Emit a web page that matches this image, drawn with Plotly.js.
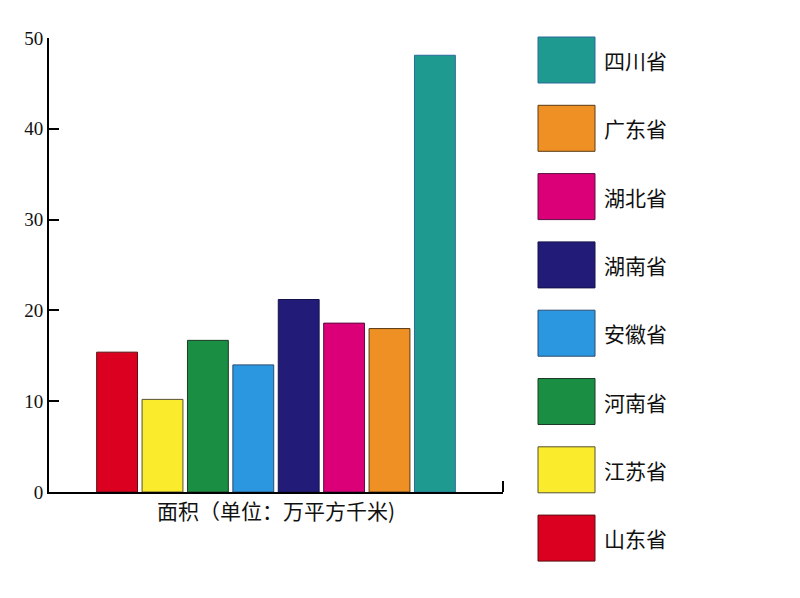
<!DOCTYPE html>
<html><head><meta charset="utf-8">
<script src="https://cdn.plot.ly/plotly-3.0.1.min.js"></script>
<style>html,body{margin:0;padding:0;background:#fff;}#chart{width:800px;height:598px;}</style>
</head><body><div id="chart"></div>
<script>
const category = ['面积（单位：万平方千米)'];
const provinces = ['山东省','江苏省','河南省','安徽省','湖南省','湖北省','广东省','四川省'];
const areas = [15.4, 10.2, 16.7, 14.0, 21.2, 18.6, 18.0, 48.1];
const colors = ['#DC0020','#FAEB2C','#1A8F44','#2A97E0','#221C78','#DC0078','#EE9024','#1F9A91'];
const lineColors = ['#5a1010','#555030','#1c3a25','#2a4a70','#15124a','#5a1040','#5a3a15','#2a6a9a'];

const W = 800, H = 598, L = 49, R = 297, T = 38, B = 106;
const pw = W - L - R, ph = H - T - B;
const px = x => (x - L) / pw;
const py = y => (H - B - y) / ph;

const traces = provinces.map((p, i) => ({
  type: 'bar', name: p, x: category, y: [areas[i]],
  marker: {color: colors[i], line: {color: lineColors[i], width: 1}},
  showlegend: false, hoverinfo: 'y+name'
}));

const shapes = [{type: 'line', xref: 'paper', yref: 'paper', x0: 1, x1: 1, y0: 0, y1: py(481),
  line: {color: '#000', width: 2}}];
const annotations = [];
const order = provinces.map((_, i) => i).reverse();
order.forEach((idx, k) => {
  const top = 37 + k * 68.3;
  shapes.push({type: 'rect', xref: 'paper', yref: 'paper',
    x0: px(538), x1: px(595), y0: py(top + 46), y1: py(top),
    fillcolor: colors[idx], line: {color: lineColors[idx], width: 1}});
  annotations.push({xref: 'paper', yref: 'paper', x: px(602), y: py(top + 23),
    xanchor: 'left', yanchor: 'middle', showarrow: false, text: provinces[idx],
    font: {family: 'Noto Sans CJK SC, Liberation Serif, serif', size: 21, color: '#111'}});
});

const layout = {
  width: W, height: H,
  margin: {l: L, r: R, t: T, b: B, pad: 0},
  paper_bgcolor: '#fff', plot_bgcolor: '#fff',
  barmode: 'group', bargap: 0.2, bargroupgap: 0.1,
  font: {family: 'Liberation Serif, Noto Sans CJK SC, serif', color: '#111'},
  xaxis: {
    type: 'category', showline: true, linecolor: '#000', linewidth: 2,
    ticks: '', showgrid: false, zeroline: false, fixedrange: true,
    tickfont: {family: 'Noto Sans CJK SC, serif', size: 21, color: '#111'}
  },
  yaxis: {
    range: [0, 50], tickvals: [0,10,20,30,40,50], showline: true, linecolor: '#000', linewidth: 2,
    ticks: 'inside', ticklen: 10, tickwidth: 2, tickcolor: '#000',
    showgrid: false, zeroline: false, fixedrange: true,
    tickfont: {family: 'Liberation Serif, serif', size: 19, color: '#111'}
  },
  shapes: shapes, annotations: annotations
};

Plotly.newPlot('chart', traces, layout, {displayModeBar: false, staticPlot: true});
</script></body></html>
